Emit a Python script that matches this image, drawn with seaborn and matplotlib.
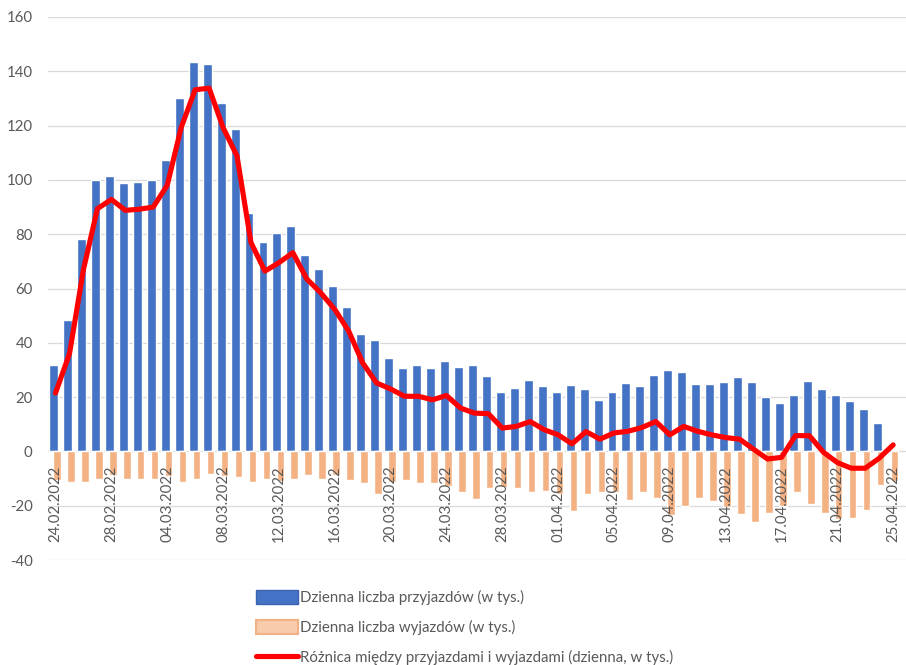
import numpy as np
import pandas as pd
import matplotlib
matplotlib.use("Agg")
import matplotlib.pyplot as plt
from matplotlib.patches import Patch
from matplotlib.lines import Line2D
import seaborn as sns

# ---------------- data (w tys.) ----------------
arrivals = [32.0, 48.3, 78.1, 99.8, 101.4, 99.0, 99.4, 100.1, 107.2, 130.0,
            143.3, 142.7, 128.3, 118.7, 87.9, 77.2, 80.5, 83.0, 72.3, 67.3,
            60.9, 53.2, 43.4, 40.9, 34.4, 30.7, 31.7, 30.7, 33.2, 31.1,
            32.0, 27.6, 21.7, 23.4, 26.2, 24.0, 21.7, 24.6, 23.0, 19.0,
            21.7, 25.2, 24.2, 28.3, 30.1, 29.3, 24.8, 24.8, 25.6, 27.4,
            25.4, 19.9, 18.0, 20.8, 25.8, 23.0, 20.8, 18.7, 15.7, 10.4,
            np.nan]
departures = [-10.5, -11.1, -11.3, -10.2, -8.6, -10.2, -10.2, -10.1, -9.2, -11.1,
              -10.1, -8.3, -9.0, -9.6, -11.1, -10.2, -11.0, -10.1, -8.6, -10.2,
              -8.6, -10.7, -11.5, -15.6, -11.4, -10.5, -11.5, -11.5, -12.6, -14.8,
              -17.6, -13.5, -13.1, -13.5, -14.8, -14.5, -15.6, -21.8, -15.8, -14.8,
              -14.9, -17.9, -14.8, -17.2, -23.5, -20.1, -17.2, -18.2, -20.5, -23.1,
              -25.9, -22.8, -20.2, -15.0, -19.5, -22.8, -24.9, -24.4, -21.6, -12.3,
              -11.0]
difference = [21.5, 36.0, 67.0, 89.4, 92.8, 88.8, 89.2, 90.0, 98.0, 119.3,
              133.2, 133.8, 119.3, 108.8, 76.9, 66.4, 69.5, 73.2, 63.5, 58.4,
              52.3, 44.3, 32.6, 25.2, 23.0, 20.3, 20.3, 19.0, 20.6, 16.0,
              14.1, 13.9, 8.6, 9.2, 11.0, 8.0, 6.1, 2.8, 7.3, 4.5,
              6.8, 7.4, 8.8, 11.0, 6.1, 9.2, 7.4, 6.1, 5.1, 4.5,
              0.8, -2.8, -2.2, 5.8, 5.8, -0.3, -4.1, -6.2, -6.2, -2.5,
              2.4]
tick_labels = ["24.02.2022", "28.02.2022", "04.03.2022", "08.03.2022",
               "12.03.2022", "16.03.2022", "20.03.2022", "24.03.2022",
               "28.03.2022", "01.04.2022", "05.04.2022", "09.04.2022",
               "13.04.2022", "17.04.2022", "21.04.2022", "25.04.2022"]
y_ticks = [-40, -20, 0, 20, 40, 60, 80, 100, 120, 140, 160]

series_labels = ["Dzienna liczba przyjazdów (w tys.)",
                 "Dzienna liczba wyjazdów (w tys.)",
                 "Różnica między przyjazdami i wyjazdami (dzienna, w tys.)"]

BLUE = "#4472C4"
ORANGE = "#F4B183"
RED = "#FF0000"
TXT = "#595959"
FS = 10.8

sns.set_style("white")
plt.rcParams["font.family"] = ["Lato", "DejaVu Sans"]

n = len(arrivals)
day = np.arange(n)
df = pd.DataFrame({"day": day, "arr": arrivals, "dep": departures, "diff": difference})

fig = plt.figure(figsize=(9.06, 6.65), dpi=100)
ax = fig.add_axes([48 / 906, 1 - 560 / 665, 1 - 48 / 906, (560 - 17) / 665])

d_arr = df.dropna(subset=["arr"])
sns.barplot(x=d_arr["day"] - 0.14, y=d_arr["arr"], native_scale=True, width=0.64,
            color=BLUE, saturation=1, errorbar=None, ax=ax, zorder=2)
sns.barplot(x=df["day"] + 0.1, y=df["dep"], native_scale=True, width=0.54,
            color=ORANGE, saturation=1, errorbar=None, ax=ax, zorder=2)
sns.lineplot(x=df["day"], y=df["diff"], color=RED, linewidth=3.7, ax=ax,
             zorder=3, solid_joinstyle="round", solid_capstyle="round")

# axis line at zero carries the date labels (set before ticks: it resets them)
for s in ["top", "right", "left"]:
    ax.spines[s].set_visible(False)
ax.spines["bottom"].set_position(("data", 0))
ax.spines["bottom"].set_color("none")

ax.set_xlim(-0.54, 60.92)
ax.set_ylim(-40, 160)
ax.set_yticks(y_ticks)
ax.set_yticklabels([str(v) for v in y_ticks])
ax.set_xticks(day[::4])
ax.set_xticklabels(tick_labels)
ax.set_xlabel("")
ax.set_ylabel("")
ax.grid(axis="y", color="#D9D9D9", linewidth=0.9)
ax.grid(axis="x", visible=False)
ax.set_axisbelow(True)
ax.xaxis.set_zorder(2.5)   # date labels drawn over the bars
ax.tick_params(axis="x", length=0, pad=10, labelsize=FS, labelcolor=TXT,
               labelrotation=90)
ax.tick_params(axis="y", length=0, pad=11, labelsize=FS, labelcolor=TXT)

handles = [Patch(facecolor=BLUE, edgecolor="#3A64B0", linewidth=1.0),
           Patch(facecolor="#F8CBAD", edgecolor=ORANGE, linewidth=1.5),
           Line2D([0], [0], color=RED, linewidth=3.7)]
leg = fig.legend(handles, series_labels, loc="upper left",
                 bbox_to_anchor=(256 / 906, 1 - 590 / 665),
                 bbox_transform=fig.transFigure, frameon=False, ncol=1,
                 fontsize=FS, borderpad=0, borderaxespad=0,
                 handlelength=2.8, handleheight=1.0, handletextpad=0.1,
                 labelspacing=1.0)
for t in leg.get_texts():
    t.set_color(TXT)

fig.savefig("out.png", dpi=100)
